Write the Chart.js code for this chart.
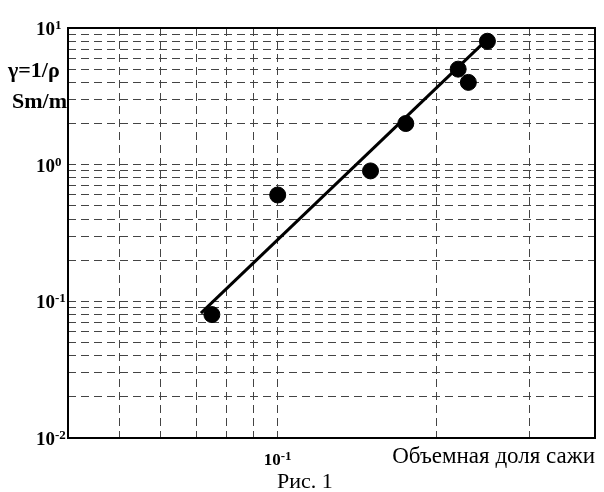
<!DOCTYPE html>
<html>
<head>
<meta charset="utf-8">
<script src="https://cdn.jsdelivr.net/npm/chart.js@4/dist/chart.umd.min.js"></script>
<style>
  body { margin: 0; background: #fff; }
  canvas { display: block; }
</style>
</head>
<body>
<canvas id="sootChart" width="604" height="492"></canvas>
<script>
// measured points (volume fraction of soot vs conductivity)
const pointX = [0.075, 0.1, 0.15, 0.175, 0.22, 0.23, 0.25];
const pointY = [0.08, 0.6, 0.9, 2.0, 5.0, 4.0, 8.0];

// fitted line, two ends
const fitX = [0.0715, 0.25];
const fitY = [0.082, 8.3];

// grid values and labelled decades
const xGrid = [0.05, 0.06, 0.07, 0.08, 0.09, 0.1, 0.2, 0.3];
const yGrid = [0.02, 0.03, 0.04, 0.05, 0.06, 0.07, 0.08, 0.09, 0.1,
               0.2, 0.3, 0.4, 0.5, 0.6, 0.7, 0.8, 0.9, 1,
               2, 3, 4, 5, 6, 7, 8, 9];
const yDecades = [0.01, 0.1, 1, 10];
const yExponents = ['-2', '-1', '0', '1'];
const xDecades = [0.1];
const xExponents = ['-1'];

const yTitle = ['γ=1/ρ', 'Sm/m'];
const xTitle = 'Объемная доля сажи';
const caption = 'Рис. 1';

const serif = "'Liberation Serif', 'Times New Roman', serif";

const labelsPlugin = {
    id: 'labels',
    afterDraw(chart) {
        const ctx = chart.ctx;
        const area = chart.chartArea;
        const xs = chart.scales.x;
        const ys = chart.scales.y;
        ctx.save();

        // frame
        ctx.strokeStyle = '#000';
        ctx.lineWidth = 2;
        ctx.strokeRect(area.left, area.top, area.right - area.left, area.bottom - area.top);

        ctx.fillStyle = '#000';

        // y decade labels with superscripts
        yDecades.forEach((v, i) => {
            const py = ys.getPixelForValue(v);
            ctx.font = 'bold 19px ' + serif;
            ctx.textAlign = 'right';
            ctx.textBaseline = 'middle';
            ctx.fillText('10', area.left - 13, py + 2);
            ctx.font = 'bold 13px ' + serif;
            ctx.textAlign = 'left';
            ctx.textBaseline = 'alphabetic';
            ctx.fillText(yExponents[i], area.left - 13, py + 1);
        });

        // x decade labels
        xDecades.forEach((v, i) => {
            const px = xs.getPixelForValue(v);
            ctx.font = 'bold 17px ' + serif;
            ctx.textAlign = 'right';
            ctx.textBaseline = 'middle';
            ctx.fillText('10', px + 3, area.bottom + 23);
            ctx.font = 'bold 13px ' + serif;
            ctx.textAlign = 'left';
            ctx.textBaseline = 'alphabetic';
            ctx.fillText(xExponents[i], px + 3, area.bottom + 22);
        });

        // y axis title
        ctx.font = 'bold 22px ' + serif;
        ctx.textAlign = 'left';
        ctx.textBaseline = 'middle';
        ctx.fillText(yTitle[0], 8, ys.getPixelForValue(5) + 2);
        ctx.fillText(yTitle[1], 12, ys.getPixelForValue(3) + 3);

        // x axis title
        ctx.font = '23px ' + serif;
        ctx.textAlign = 'right';
        ctx.textBaseline = 'alphabetic';
        ctx.fillText(xTitle, area.right, area.bottom + 25);

        // caption
        ctx.font = '22px ' + serif;
        ctx.textAlign = 'left';
        ctx.fillText(caption, 277, area.bottom + 50);

        ctx.restore();
    }
};

const gridOpts = {
    color: '#444',
    lineWidth: 1,
    drawTicks: false
};

new Chart(document.getElementById('sootChart'), {
    type: 'scatter',
    data: {
        datasets: [
            {
                label: 'data',
                data: pointX.map((x, i) => ({ x, y: pointY[i] })),
                backgroundColor: '#000',
                borderColor: '#000',
                pointRadius: 8,
                showLine: false,
                order: 0
            },
            {
                label: 'fit',
                data: fitX.map((x, i) => ({ x, y: fitY[i] })),
                borderColor: '#000',
                borderWidth: 3,
                pointRadius: 0,
                showLine: true,
                order: 1
            }
        ]
    },
    options: {
        responsive: false,
        animation: false,
        layout: { padding: { top: 28, right: 6, left: 0, bottom: 0 } },
        plugins: {
            legend: { display: false },
            tooltip: { enabled: false }
        },
        scales: {
            x: {
                type: 'logarithmic',
                min: 0.04,
                max: 0.4,
                afterBuildTicks: s => { s.ticks = xGrid.map(v => ({ value: v })); },
                afterFit: s => { s.height = 54; },
                ticks: { display: false },
                grid: gridOpts,
                border: { display: false, dash: [8, 5] }
            },
            y: {
                type: 'logarithmic',
                min: 0.01,
                max: 10,
                afterBuildTicks: s => { s.ticks = yGrid.map(v => ({ value: v })); },
                afterFit: s => { s.width = 68; },
                ticks: { display: false },
                grid: gridOpts,
                border: { display: false, dash: [8, 5] }
            }
        }
    },
    plugins: [labelsPlugin]
});
</script>
</body>
</html>
